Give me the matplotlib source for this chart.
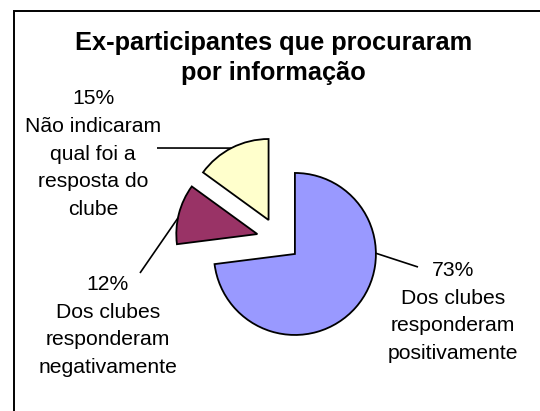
import numpy as np
import matplotlib
matplotlib.use("Agg")
import matplotlib.pyplot as plt
from matplotlib.patches import Rectangle

plt.rcParams["font.family"] = ["Liberation Sans", "DejaVu Sans"]

title = "Ex-participantes que procuraram\npor informação"
shares = [73, 12, 15]
pct_labels = ["73%", "12%", "15%"]
descriptions = [
    "Dos clubes\nresponderam\npositivamente",
    "Dos clubes\nresponderam\nnegativamente",
    "Não indicaram\nqual foi a\nresposta do\nclube",
]
colors = ["#9999FF", "#993366", "#FFFFCC"]

W, H = 540, 411
fig = plt.figure(figsize=(W / 100, H / 100), dpi=100)
ax = fig.add_axes([0, 0, 1, 1])

# pie placed in pixel units (y measured from the top of the image)
cx, cy, radius = 278.5, H - 239.5, 81
explode_frac = 0.27

wedges, _ = ax.pie(shares, colors=colors, startangle=90, counterclock=False,
                   center=(cx, cy), radius=radius,
                   explode=[explode_frac * radius] * len(shares),
                   wedgeprops=dict(edgecolor="black", linewidth=1.3))
ax.set_xlim(0, W)
ax.set_ylim(0, H)
ax.set_aspect("equal")
ax.axis("off")

# leader lines: (angle on the wedge rim, label-side end point), then label position
leaders = [(0.5, (418, H - 267)), (168.6, (140, H - 273)), (117.4, (157, H - 148))]
label_pos = [(453, H - 312), (108, H - 326), (93, H - 154)]

for w, (ang, end), pct, desc, pos in zip(wedges, leaders, pct_labels, descriptions, label_pos):
    wx, wy = w.center
    a = np.deg2rad(ang)
    sx, sy = wx + w.r * np.cos(a), wy + w.r * np.sin(a)
    ax.plot([sx, end[0]], [sy, end[1]], color="black", lw=1.2, solid_capstyle="butt")
    ax.text(pos[0], pos[1], pct + "\n" + desc, ha="center", va="center",
            fontsize=15.2, linespacing=1.58)

ax.text(273.5, H - 58, title, ha="center", va="center", fontsize=18.3,
        fontweight="bold", linespacing=1.3)

# chart frame (runs off the right and bottom edges)
ax.add_patch(Rectangle((13.5, -10), 600, H - 11.5 + 10, fill=False,
                       edgecolor="black", lw=1.4, clip_on=False))

fig.savefig("out.png", dpi=100)
